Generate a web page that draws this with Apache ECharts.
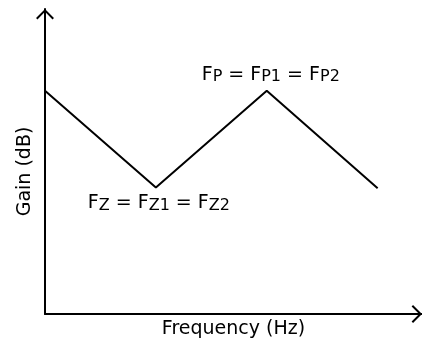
<!DOCTYPE html>
<html>
<head>
<meta charset="utf-8">
<script src="https://cdn.jsdelivr.net/npm/echarts@6/dist/echarts.min.js"></script>
<style>
  html, body { margin: 0; padding: 0; background: #fff; }
  #chart { width: 422px; height: 345px; }
</style>
</head>
<body>
<div id="chart"></div>
<script>
// asymptotic sketch, arbitrary units (the original has no ticks)
const freq = [0, 1, 2, 3];
const gain = [7.32, 4.15, 7.32, 4.12];
// break-point name at each corner, '' = none
const breakName = ['', 'Z', 'P', ''];
const xTitle = 'Frequency (Hz)';
const yTitle = 'Gain (dB)';

const font = 'DejaVu Sans';
// open arrow head for the axis ends
const chevron = 'path://M0,10 L10,0 L20,10 L18.4,11.6 L10,3.2 L1.6,11.6 Z';

function breakLabel(n) {
  return '{m|F}{s|' + n + '}{m| = F}{s|' + n + '1}{m| = F}{s|' + n + '2}';
}

const seriesData = freq.map((f, i) => {
  const item = { value: [f, gain[i]] };
  const n = breakName[i];
  if (n) {
    const up = n === 'P'; // poles sit on the peak, label above
    item.label = {
      show: true,
      position: up ? 'top' : 'bottom',
      distance: 6,
      offset: [up ? 4 : 3, 0],
      formatter: breakLabel(n)
    };
  }
  return item;
});

const axisLine = {
  show: true,
  onZero: true,
  symbol: ['none', chevron],
  symbolSize: [18, 10.4],
  symbolOffset: [0, -5.2],
  lineStyle: { color: '#000', width: 2 }
};

const chart = echarts.init(document.getElementById('chart'));
chart.setOption({
  animation: false,
  grid: { left: 45, right: 0, top: 9, bottom: 31 },
  xAxis: {
    type: 'value',
    min: 0,
    max: 3.4,
    axisLine: axisLine,
    axisTick: { show: false },
    axisLabel: { show: false },
    splitLine: { show: false },
    name: xTitle,
    nameLocation: 'middle',
    nameGap: 6,
    nameTextStyle: { fontFamily: font, fontSize: 19, color: '#000' }
  },
  yAxis: {
    type: 'value',
    min: 0,
    max: 10,
    axisLine: axisLine,
    axisTick: { show: false },
    axisLabel: { show: false },
    splitLine: { show: false },
    name: yTitle,
    nameLocation: 'middle',
    nameGap: 10.4,
    nameTextStyle: { fontFamily: font, fontSize: 19, color: '#000', padding: [0, 20, 0, 0] }
  },
  series: [{
    type: 'line',
    data: seriesData,
    symbol: 'circle',
    symbolSize: 0,
    showSymbol: true,
    lineStyle: { color: '#000', width: 2 },
    label: {
      rich: {
        m: { fontFamily: font, fontSize: 19, lineHeight: 20, color: '#000' },
        s: { fontFamily: font, fontSize: 16, lineHeight: 11, verticalAlign: 'bottom', color: '#000' }
      }
    },
    emphasis: { disabled: true }
  }]
});
</script>
</body>
</html>
